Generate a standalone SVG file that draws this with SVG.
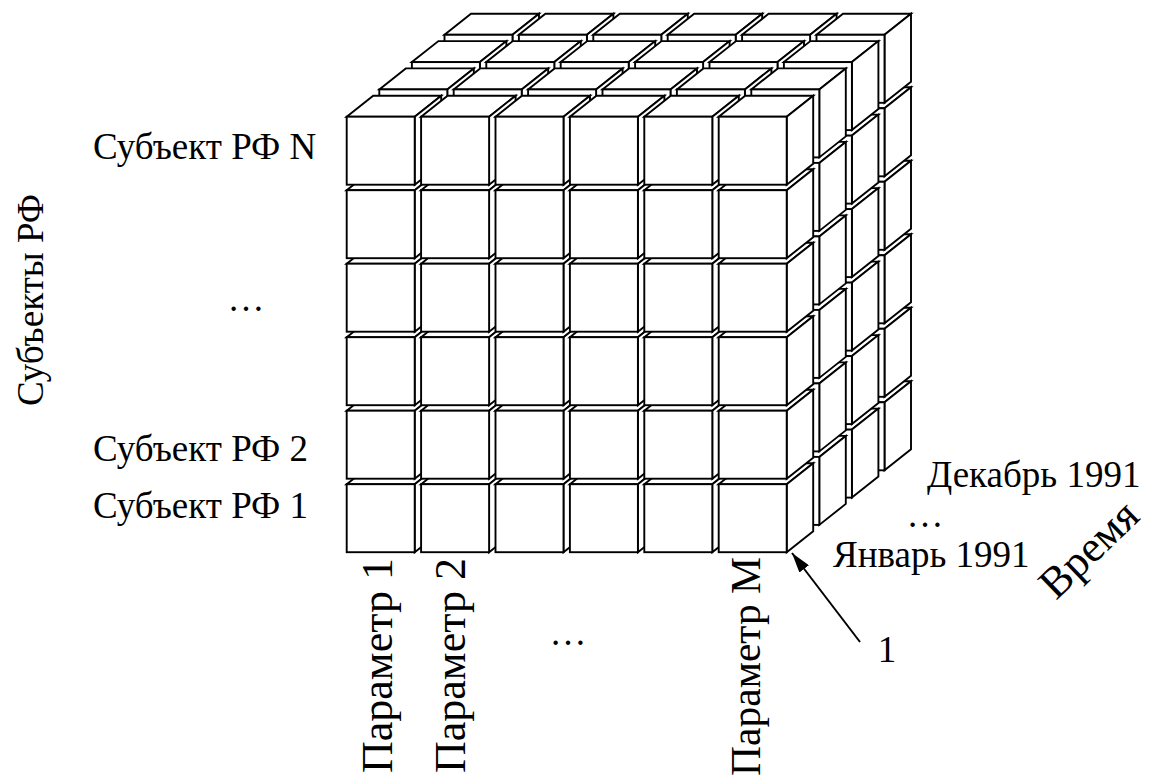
<svg xmlns="http://www.w3.org/2000/svg" xmlns:xlink="http://www.w3.org/1999/xlink" width="1154" height="778" viewBox="0 0 1154 778">
  <style>
    .face { fill: #ffffff; stroke: #000000; stroke-width: 1.9; stroke-linejoin: miter; }
    text { font-family: "Liberation Serif", "Times New Roman", "DejaVu Serif", serif; fill: #000000; }
    .row { font-size: 37px; }
    .col { font-size: 44px; }
    .lead { stroke: #000000; stroke-width: 2; fill: none; }
  </style>
  <defs>
    <!-- one cell: front square, top face and right face; origin at front top-left -->
    <g id="cube">
      <polygon class="face" points="0,0 26.5,-21 94.5,-21 68,0"/>
      <polygon class="face" points="68,0 94.5,-21 94.5,47 68,68"/>
      <rect class="face" x="0" y="0" width="68" height="68"/>
    </g>
    <marker id="arrow" viewBox="0 0 20 12" refX="20" refY="6" markerWidth="20" markerHeight="12" markerUnits="userSpaceOnUse" orient="auto">
      <path d="M0,0 L20,6 L0,12 Z" fill="#000000"/>
    </marker>
  </defs>

  <!-- cube cells, painted back layer first; rows bottom-up, columns left to right -->
  <g id="cube-layer-4" transform="translate(97.8,-81.9)">
    <use xlink:href="#cube" x="346.7" y="484.2"/><use xlink:href="#cube" x="421.1" y="484.2"/><use xlink:href="#cube" x="495.5" y="484.2"/><use xlink:href="#cube" x="569.9" y="484.2"/><use xlink:href="#cube" x="644.3" y="484.2"/><use xlink:href="#cube" x="718.7" y="484.2"/>
    <use xlink:href="#cube" x="346.7" y="410.7"/><use xlink:href="#cube" x="421.1" y="410.7"/><use xlink:href="#cube" x="495.5" y="410.7"/><use xlink:href="#cube" x="569.9" y="410.7"/><use xlink:href="#cube" x="644.3" y="410.7"/><use xlink:href="#cube" x="718.7" y="410.7"/>
    <use xlink:href="#cube" x="346.7" y="337.2"/><use xlink:href="#cube" x="421.1" y="337.2"/><use xlink:href="#cube" x="495.5" y="337.2"/><use xlink:href="#cube" x="569.9" y="337.2"/><use xlink:href="#cube" x="644.3" y="337.2"/><use xlink:href="#cube" x="718.7" y="337.2"/>
    <use xlink:href="#cube" x="346.7" y="263.7"/><use xlink:href="#cube" x="421.1" y="263.7"/><use xlink:href="#cube" x="495.5" y="263.7"/><use xlink:href="#cube" x="569.9" y="263.7"/><use xlink:href="#cube" x="644.3" y="263.7"/><use xlink:href="#cube" x="718.7" y="263.7"/>
    <use xlink:href="#cube" x="346.7" y="190.2"/><use xlink:href="#cube" x="421.1" y="190.2"/><use xlink:href="#cube" x="495.5" y="190.2"/><use xlink:href="#cube" x="569.9" y="190.2"/><use xlink:href="#cube" x="644.3" y="190.2"/><use xlink:href="#cube" x="718.7" y="190.2"/>
    <use xlink:href="#cube" x="346.7" y="116.7"/><use xlink:href="#cube" x="421.1" y="116.7"/><use xlink:href="#cube" x="495.5" y="116.7"/><use xlink:href="#cube" x="569.9" y="116.7"/><use xlink:href="#cube" x="644.3" y="116.7"/><use xlink:href="#cube" x="718.7" y="116.7"/>
  </g>
  <g id="cube-layer-3" transform="translate(65.2,-54.6)">
    <use xlink:href="#cube" x="346.7" y="484.2"/><use xlink:href="#cube" x="421.1" y="484.2"/><use xlink:href="#cube" x="495.5" y="484.2"/><use xlink:href="#cube" x="569.9" y="484.2"/><use xlink:href="#cube" x="644.3" y="484.2"/><use xlink:href="#cube" x="718.7" y="484.2"/>
    <use xlink:href="#cube" x="346.7" y="410.7"/><use xlink:href="#cube" x="421.1" y="410.7"/><use xlink:href="#cube" x="495.5" y="410.7"/><use xlink:href="#cube" x="569.9" y="410.7"/><use xlink:href="#cube" x="644.3" y="410.7"/><use xlink:href="#cube" x="718.7" y="410.7"/>
    <use xlink:href="#cube" x="346.7" y="337.2"/><use xlink:href="#cube" x="421.1" y="337.2"/><use xlink:href="#cube" x="495.5" y="337.2"/><use xlink:href="#cube" x="569.9" y="337.2"/><use xlink:href="#cube" x="644.3" y="337.2"/><use xlink:href="#cube" x="718.7" y="337.2"/>
    <use xlink:href="#cube" x="346.7" y="263.7"/><use xlink:href="#cube" x="421.1" y="263.7"/><use xlink:href="#cube" x="495.5" y="263.7"/><use xlink:href="#cube" x="569.9" y="263.7"/><use xlink:href="#cube" x="644.3" y="263.7"/><use xlink:href="#cube" x="718.7" y="263.7"/>
    <use xlink:href="#cube" x="346.7" y="190.2"/><use xlink:href="#cube" x="421.1" y="190.2"/><use xlink:href="#cube" x="495.5" y="190.2"/><use xlink:href="#cube" x="569.9" y="190.2"/><use xlink:href="#cube" x="644.3" y="190.2"/><use xlink:href="#cube" x="718.7" y="190.2"/>
    <use xlink:href="#cube" x="346.7" y="116.7"/><use xlink:href="#cube" x="421.1" y="116.7"/><use xlink:href="#cube" x="495.5" y="116.7"/><use xlink:href="#cube" x="569.9" y="116.7"/><use xlink:href="#cube" x="644.3" y="116.7"/><use xlink:href="#cube" x="718.7" y="116.7"/>
  </g>
  <g id="cube-layer-2" transform="translate(32.6,-27.3)">
    <use xlink:href="#cube" x="346.7" y="484.2"/><use xlink:href="#cube" x="421.1" y="484.2"/><use xlink:href="#cube" x="495.5" y="484.2"/><use xlink:href="#cube" x="569.9" y="484.2"/><use xlink:href="#cube" x="644.3" y="484.2"/><use xlink:href="#cube" x="718.7" y="484.2"/>
    <use xlink:href="#cube" x="346.7" y="410.7"/><use xlink:href="#cube" x="421.1" y="410.7"/><use xlink:href="#cube" x="495.5" y="410.7"/><use xlink:href="#cube" x="569.9" y="410.7"/><use xlink:href="#cube" x="644.3" y="410.7"/><use xlink:href="#cube" x="718.7" y="410.7"/>
    <use xlink:href="#cube" x="346.7" y="337.2"/><use xlink:href="#cube" x="421.1" y="337.2"/><use xlink:href="#cube" x="495.5" y="337.2"/><use xlink:href="#cube" x="569.9" y="337.2"/><use xlink:href="#cube" x="644.3" y="337.2"/><use xlink:href="#cube" x="718.7" y="337.2"/>
    <use xlink:href="#cube" x="346.7" y="263.7"/><use xlink:href="#cube" x="421.1" y="263.7"/><use xlink:href="#cube" x="495.5" y="263.7"/><use xlink:href="#cube" x="569.9" y="263.7"/><use xlink:href="#cube" x="644.3" y="263.7"/><use xlink:href="#cube" x="718.7" y="263.7"/>
    <use xlink:href="#cube" x="346.7" y="190.2"/><use xlink:href="#cube" x="421.1" y="190.2"/><use xlink:href="#cube" x="495.5" y="190.2"/><use xlink:href="#cube" x="569.9" y="190.2"/><use xlink:href="#cube" x="644.3" y="190.2"/><use xlink:href="#cube" x="718.7" y="190.2"/>
    <use xlink:href="#cube" x="346.7" y="116.7"/><use xlink:href="#cube" x="421.1" y="116.7"/><use xlink:href="#cube" x="495.5" y="116.7"/><use xlink:href="#cube" x="569.9" y="116.7"/><use xlink:href="#cube" x="644.3" y="116.7"/><use xlink:href="#cube" x="718.7" y="116.7"/>
  </g>
  <g id="cube-layer-1">
    <use xlink:href="#cube" x="346.7" y="484.2"/><use xlink:href="#cube" x="421.1" y="484.2"/><use xlink:href="#cube" x="495.5" y="484.2"/><use xlink:href="#cube" x="569.9" y="484.2"/><use xlink:href="#cube" x="644.3" y="484.2"/><use xlink:href="#cube" x="718.7" y="484.2"/>
    <use xlink:href="#cube" x="346.7" y="410.7"/><use xlink:href="#cube" x="421.1" y="410.7"/><use xlink:href="#cube" x="495.5" y="410.7"/><use xlink:href="#cube" x="569.9" y="410.7"/><use xlink:href="#cube" x="644.3" y="410.7"/><use xlink:href="#cube" x="718.7" y="410.7"/>
    <use xlink:href="#cube" x="346.7" y="337.2"/><use xlink:href="#cube" x="421.1" y="337.2"/><use xlink:href="#cube" x="495.5" y="337.2"/><use xlink:href="#cube" x="569.9" y="337.2"/><use xlink:href="#cube" x="644.3" y="337.2"/><use xlink:href="#cube" x="718.7" y="337.2"/>
    <use xlink:href="#cube" x="346.7" y="263.7"/><use xlink:href="#cube" x="421.1" y="263.7"/><use xlink:href="#cube" x="495.5" y="263.7"/><use xlink:href="#cube" x="569.9" y="263.7"/><use xlink:href="#cube" x="644.3" y="263.7"/><use xlink:href="#cube" x="718.7" y="263.7"/>
    <use xlink:href="#cube" x="346.7" y="190.2"/><use xlink:href="#cube" x="421.1" y="190.2"/><use xlink:href="#cube" x="495.5" y="190.2"/><use xlink:href="#cube" x="569.9" y="190.2"/><use xlink:href="#cube" x="644.3" y="190.2"/><use xlink:href="#cube" x="718.7" y="190.2"/>
    <use xlink:href="#cube" x="346.7" y="116.7"/><use xlink:href="#cube" x="421.1" y="116.7"/><use xlink:href="#cube" x="495.5" y="116.7"/><use xlink:href="#cube" x="569.9" y="116.7"/><use xlink:href="#cube" x="644.3" y="116.7"/><use xlink:href="#cube" x="718.7" y="116.7"/>
  </g>

  <!-- vertical axis: regions -->
  <g id="axis-regions">
    <text class="row" transform="translate(43,300) rotate(-90)" text-anchor="middle">Субъекты РФ</text>
    <text class="row" x="93" y="159">Субъект РФ N</text>
    <text class="row" x="246" y="311" text-anchor="middle">…</text>
    <text class="row" x="93" y="461">Субъект РФ 2</text>
    <text class="row" x="93" y="518">Субъект РФ 1</text>
  </g>

  <!-- horizontal axis: parameters -->
  <g id="axis-parameters">
    <text class="col" transform="translate(392,558) rotate(-90)" text-anchor="end">Параметр 1</text>
    <text class="col" transform="translate(465,558) rotate(-90)" text-anchor="end">Параметр 2</text>
    <text class="row" x="568" y="645" text-anchor="middle">…</text>
    <text class="col" transform="translate(760,557) rotate(-90)" text-anchor="end" style="font-size:41.5px">Параметр M</text>
  </g>

  <!-- depth axis: time -->
  <g id="axis-time">
    <text class="row" x="927" y="487">Декабрь 1991</text>
    <text class="row" x="925" y="527" text-anchor="middle">…</text>
    <text class="row" x="833" y="567">Январь 1991</text>
    <text transform="translate(1056,601) rotate(-44)" style="font-size:44px">Время</text>
  </g>

  <!-- callout 1 pointing at the front-bottom-right corner cell -->
  <g id="connectors">
    <line class="lead" x1="860" y1="642" x2="792" y2="553" marker-end="url(#arrow)"/>
  </g>
  <g id="callout-1">
    <text class="row" x="887" y="662" text-anchor="middle">1</text>
  </g>
</svg>
